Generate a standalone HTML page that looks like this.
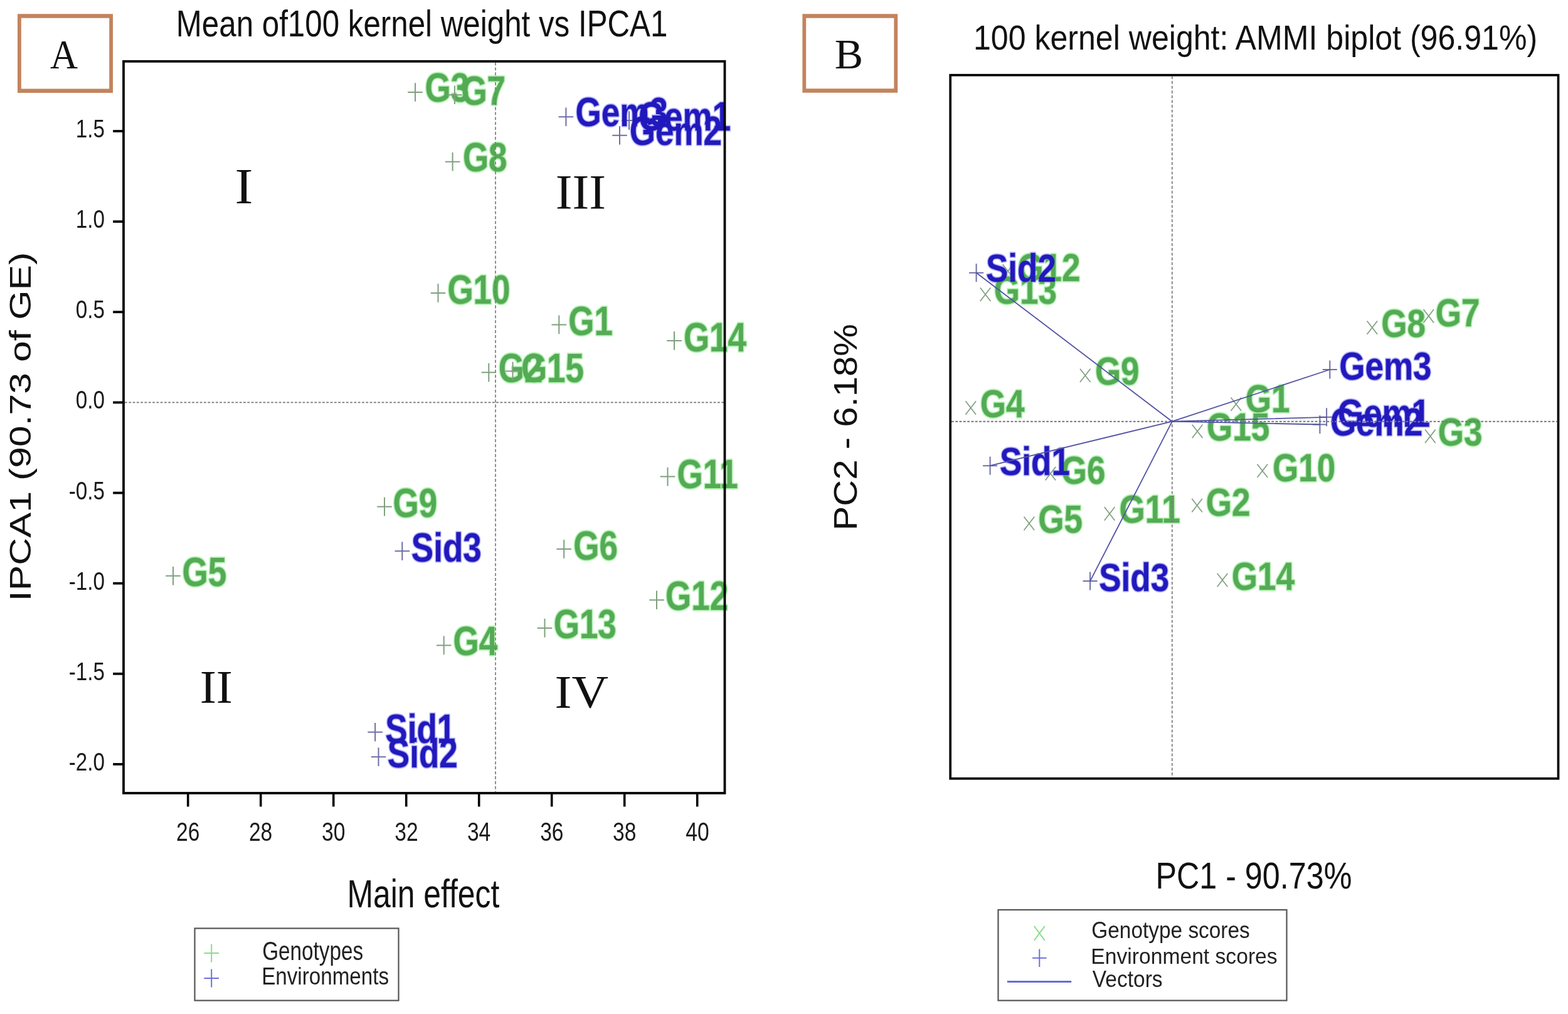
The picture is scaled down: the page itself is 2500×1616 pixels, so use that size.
<!DOCTYPE html>
<html><head><meta charset="utf-8"><title>AMMI plots</title>
<style>html,body{margin:0;padding:0;background:#fff;}svg{display:block;}</style></head>
<body><svg width="2500" height="1616" viewBox="0 0 2500 1616">
<rect width="2500" height="1616" fill="#fff"/>
<path fill-rule="evenodd" fill="#c4835c" d="M28 22.2H180V148H28Z M33.8 28.7V141.5H174.2V28.7Z"/>
<text transform="translate(79.89,109.00) scale(1,1.0781)" font-family="'Liberation Serif', 'Times New Roman', serif" font-weight="normal" font-size="60.99" fill="#111" >A</text>
<text transform="translate(280.76,57.70) scale(1,1.2113)" font-family="'Liberation Sans', Arial, sans-serif" font-weight="normal" font-size="49.31" fill="#111" >Mean of100 kernel weight vs IPCA1</text>
<line x1="180.20" y1="209.00" x2="197.00" y2="209.00" stroke="#000" stroke-width="3.8" />
<text transform="translate(120.78,219.00) scale(1,1.2050)" font-family="'Liberation Sans', Arial, sans-serif" font-weight="normal" font-size="33.20" fill="#1a1a1a">1.5</text>
<line x1="180.20" y1="353.13" x2="197.00" y2="353.13" stroke="#000" stroke-width="3.8" />
<text transform="translate(120.78,363.13) scale(1,1.2050)" font-family="'Liberation Sans', Arial, sans-serif" font-weight="normal" font-size="33.20" fill="#1a1a1a">1.0</text>
<line x1="180.20" y1="497.26" x2="197.00" y2="497.26" stroke="#000" stroke-width="3.8" />
<text transform="translate(120.78,507.26) scale(1,1.2050)" font-family="'Liberation Sans', Arial, sans-serif" font-weight="normal" font-size="33.20" fill="#1a1a1a">0.5</text>
<line x1="180.20" y1="641.40" x2="197.00" y2="641.40" stroke="#000" stroke-width="3.8" />
<text transform="translate(120.78,651.40) scale(1,1.2050)" font-family="'Liberation Sans', Arial, sans-serif" font-weight="normal" font-size="33.20" fill="#1a1a1a">0.0</text>
<line x1="180.20" y1="785.53" x2="197.00" y2="785.53" stroke="#000" stroke-width="3.8" />
<text transform="translate(109.82,795.53) scale(1,1.2050)" font-family="'Liberation Sans', Arial, sans-serif" font-weight="normal" font-size="33.20" fill="#1a1a1a">-0.5</text>
<line x1="180.20" y1="929.67" x2="197.00" y2="929.67" stroke="#000" stroke-width="3.8" />
<text transform="translate(109.82,939.67) scale(1,1.2050)" font-family="'Liberation Sans', Arial, sans-serif" font-weight="normal" font-size="33.20" fill="#1a1a1a">-1.0</text>
<line x1="180.20" y1="1073.80" x2="197.00" y2="1073.80" stroke="#000" stroke-width="3.8" />
<text transform="translate(109.82,1083.80) scale(1,1.2050)" font-family="'Liberation Sans', Arial, sans-serif" font-weight="normal" font-size="33.20" fill="#1a1a1a">-1.5</text>
<line x1="180.20" y1="1217.94" x2="197.00" y2="1217.94" stroke="#000" stroke-width="3.8" />
<text transform="translate(109.82,1227.94) scale(1,1.2050)" font-family="'Liberation Sans', Arial, sans-serif" font-weight="normal" font-size="33.20" fill="#1a1a1a">-2.0</text>
<line x1="299.70" y1="1264.00" x2="299.70" y2="1285.50" stroke="#000" stroke-width="3.6" />
<text transform="translate(280.97,1339.60) scale(1,1.2540)" font-family="'Liberation Sans', Arial, sans-serif" font-weight="normal" font-size="33.60" fill="#1a1a1a">26</text>
<line x1="415.70" y1="1264.00" x2="415.70" y2="1285.50" stroke="#000" stroke-width="3.6" />
<text transform="translate(396.88,1339.60) scale(1,1.2540)" font-family="'Liberation Sans', Arial, sans-serif" font-weight="normal" font-size="33.60" fill="#1a1a1a">28</text>
<line x1="531.70" y1="1264.00" x2="531.70" y2="1285.50" stroke="#000" stroke-width="3.6" />
<text transform="translate(513.05,1339.60) scale(1,1.2540)" font-family="'Liberation Sans', Arial, sans-serif" font-weight="normal" font-size="33.60" fill="#1a1a1a">30</text>
<line x1="647.70" y1="1264.00" x2="647.70" y2="1285.50" stroke="#000" stroke-width="3.6" />
<text transform="translate(629.22,1339.60) scale(1,1.2540)" font-family="'Liberation Sans', Arial, sans-serif" font-weight="normal" font-size="33.60" fill="#1a1a1a">32</text>
<line x1="763.70" y1="1264.00" x2="763.70" y2="1285.50" stroke="#000" stroke-width="3.6" />
<text transform="translate(744.88,1339.60) scale(1,1.2540)" font-family="'Liberation Sans', Arial, sans-serif" font-weight="normal" font-size="33.60" fill="#1a1a1a">34</text>
<line x1="879.70" y1="1264.00" x2="879.70" y2="1285.50" stroke="#000" stroke-width="3.6" />
<text transform="translate(861.14,1339.60) scale(1,1.2540)" font-family="'Liberation Sans', Arial, sans-serif" font-weight="normal" font-size="33.60" fill="#1a1a1a">36</text>
<line x1="995.70" y1="1264.00" x2="995.70" y2="1285.50" stroke="#000" stroke-width="3.6" />
<text transform="translate(977.05,1339.60) scale(1,1.2540)" font-family="'Liberation Sans', Arial, sans-serif" font-weight="normal" font-size="33.60" fill="#1a1a1a">38</text>
<line x1="1111.70" y1="1264.00" x2="1111.70" y2="1285.50" stroke="#000" stroke-width="3.6" />
<text transform="translate(1093.30,1339.60) scale(1,1.2540)" font-family="'Liberation Sans', Arial, sans-serif" font-weight="normal" font-size="33.60" fill="#1a1a1a">40</text>
<text transform="translate(553.51,1445.60) scale(1,1.2453)" font-family="'Liberation Sans', Arial, sans-serif" font-weight="normal" font-size="49.84" fill="#111" >Main effect</text>
<text transform="translate(48.70,952.70) rotate(-90) scale(1.2535,1)" x="-4.36" y="0" font-family="'Liberation Sans', Arial, sans-serif" font-weight="normal" font-size="48.41" fill="#111">IPCA1 (90.73 of GE)</text>
<text transform="translate(374.56,324.10) scale(1,0.9147)" font-family="'Liberation Serif', 'Times New Roman', serif" font-weight="normal" font-size="86.79" fill="#111" >I</text>
<text transform="translate(318.76,1119.50) scale(1,0.9453)" font-family="'Liberation Serif', 'Times New Roman', serif" font-weight="normal" font-size="78.33" fill="#111" >II</text>
<text transform="translate(885.68,331.90) scale(1,0.9700)" font-family="'Liberation Serif', 'Times New Roman', serif" font-weight="normal" font-size="80.43" fill="#111" >III</text>
<text transform="translate(884.56,1128.10) scale(1,0.9131)" font-family="'Liberation Serif', 'Times New Roman', serif" font-weight="normal" font-size="81.09" fill="#111" >IV</text>
<rect x="310.50" y="1479.50" width="325.00" height="115.00" fill="none" stroke="#555" stroke-width="2.2" />
<path d="M325.40 1519.00H349.00M337.20 1504.50V1533.50" stroke="#88dd88" stroke-width="2" fill="none"/>
<path d="M325.40 1558.90H349.00M337.20 1544.40V1573.40" stroke="#6e6ee0" stroke-width="2" fill="none"/>
<text transform="translate(418.13,1529.50) scale(1,1.2954)" font-family="'Liberation Sans', Arial, sans-serif" font-weight="normal" font-size="33.31" fill="#222" >Genotypes</text>
<text transform="translate(417.14,1568.90) scale(1,1.1467)" font-family="'Liberation Sans', Arial, sans-serif" font-weight="normal" font-size="33.20" fill="#222" >Environments</text>
<text transform="translate(906.28,533.90) scale(1,1.2400)" font-family="'Liberation Sans', Arial, sans-serif" font-weight="bold" font-size="53.00" fill="none" stroke="#b0f2b0" stroke-width="3.2" stroke-linejoin="round">G1</text>
<text transform="translate(794.78,608.70) scale(1,1.2400)" font-family="'Liberation Sans', Arial, sans-serif" font-weight="bold" font-size="53.00" fill="none" stroke="#b0f2b0" stroke-width="3.2" stroke-linejoin="round">G2</text>
<text transform="translate(677.48,162.10) scale(1,1.2400)" font-family="'Liberation Sans', Arial, sans-serif" font-weight="bold" font-size="53.00" fill="none" stroke="#b0f2b0" stroke-width="3.2" stroke-linejoin="round">G3</text>
<text transform="translate(722.58,1044.20) scale(1,1.2400)" font-family="'Liberation Sans', Arial, sans-serif" font-weight="bold" font-size="53.00" fill="none" stroke="#b0f2b0" stroke-width="3.2" stroke-linejoin="round">G4</text>
<text transform="translate(290.48,934.00) scale(1,1.2400)" font-family="'Liberation Sans', Arial, sans-serif" font-weight="bold" font-size="53.00" fill="none" stroke="#b0f2b0" stroke-width="3.2" stroke-linejoin="round">G5</text>
<text transform="translate(914.18,892.00) scale(1,1.2400)" font-family="'Liberation Sans', Arial, sans-serif" font-weight="bold" font-size="53.00" fill="none" stroke="#b0f2b0" stroke-width="3.2" stroke-linejoin="round">G6</text>
<text transform="translate(735.38,167.10) scale(1,1.2400)" font-family="'Liberation Sans', Arial, sans-serif" font-weight="bold" font-size="53.00" fill="none" stroke="#b0f2b0" stroke-width="3.2" stroke-linejoin="round">G7</text>
<text transform="translate(737.88,272.90) scale(1,1.2400)" font-family="'Liberation Sans', Arial, sans-serif" font-weight="bold" font-size="53.00" fill="none" stroke="#b0f2b0" stroke-width="3.2" stroke-linejoin="round">G8</text>
<text transform="translate(626.58,823.80) scale(1,1.2400)" font-family="'Liberation Sans', Arial, sans-serif" font-weight="bold" font-size="53.00" fill="none" stroke="#b0f2b0" stroke-width="3.2" stroke-linejoin="round">G9</text>
<text transform="translate(713.38,484.00) scale(1,1.2400)" font-family="'Liberation Sans', Arial, sans-serif" font-weight="bold" font-size="53.00" fill="none" stroke="#b0f2b0" stroke-width="3.2" stroke-linejoin="round">G10</text>
<text transform="translate(1079.48,778.00) scale(1,1.2400)" font-family="'Liberation Sans', Arial, sans-serif" font-weight="bold" font-size="53.00" fill="none" stroke="#b0f2b0" stroke-width="3.2" stroke-linejoin="round">G11</text>
<text transform="translate(1061.08,972.00) scale(1,1.2400)" font-family="'Liberation Sans', Arial, sans-serif" font-weight="bold" font-size="53.00" fill="none" stroke="#b0f2b0" stroke-width="3.2" stroke-linejoin="round">G12</text>
<text transform="translate(882.68,1016.60) scale(1,1.2400)" font-family="'Liberation Sans', Arial, sans-serif" font-weight="bold" font-size="53.00" fill="none" stroke="#b0f2b0" stroke-width="3.2" stroke-linejoin="round">G13</text>
<text transform="translate(1089.88,560.00) scale(1,1.2400)" font-family="'Liberation Sans', Arial, sans-serif" font-weight="bold" font-size="53.00" fill="none" stroke="#b0f2b0" stroke-width="3.2" stroke-linejoin="round">G14</text>
<text transform="translate(830.88,608.70) scale(1,1.2400)" font-family="'Liberation Sans', Arial, sans-serif" font-weight="bold" font-size="53.00" fill="none" stroke="#b0f2b0" stroke-width="3.2" stroke-linejoin="round">G15</text>
<text transform="translate(1017.88,208.00) scale(1,1.2400)" font-family="'Liberation Sans', Arial, sans-serif" font-weight="bold" font-size="53.00" fill="none" stroke="#b4b4fa" stroke-width="2.8" stroke-linejoin="round">Gem1</text>
<text transform="translate(1003.78,230.50) scale(1,1.2400)" font-family="'Liberation Sans', Arial, sans-serif" font-weight="bold" font-size="53.00" fill="none" stroke="#b4b4fa" stroke-width="2.8" stroke-linejoin="round">Gem2</text>
<text transform="translate(917.58,201.10) scale(1,1.2400)" font-family="'Liberation Sans', Arial, sans-serif" font-weight="bold" font-size="53.00" fill="none" stroke="#b4b4fa" stroke-width="2.8" stroke-linejoin="round">Gem3</text>
<text transform="translate(614.31,1184.00) scale(1,1.2400)" font-family="'Liberation Sans', Arial, sans-serif" font-weight="bold" font-size="53.00" fill="none" stroke="#b4b4fa" stroke-width="2.8" stroke-linejoin="round">Sid1</text>
<text transform="translate(617.81,1223.30) scale(1,1.2400)" font-family="'Liberation Sans', Arial, sans-serif" font-weight="bold" font-size="53.00" fill="none" stroke="#b4b4fa" stroke-width="2.8" stroke-linejoin="round">Sid2</text>
<text transform="translate(655.81,895.00) scale(1,1.2400)" font-family="'Liberation Sans', Arial, sans-serif" font-weight="bold" font-size="53.00" fill="none" stroke="#b4b4fa" stroke-width="2.8" stroke-linejoin="round">Sid3</text>
<path d="M879.50 517.40H903.10M891.30 502.60V532.20" stroke="#7f9f7f" stroke-width="2" fill="none"/>
<text transform="translate(906.28,533.90) scale(1,1.2400)" font-family="'Liberation Sans', Arial, sans-serif" font-weight="bold" font-size="53.00" fill="#55aa55" >G1</text>
<path d="M767.50 593.60H791.10M779.30 578.80V608.40" stroke="#7f9f7f" stroke-width="2" fill="none"/>
<text transform="translate(794.78,608.70) scale(1,1.2400)" font-family="'Liberation Sans', Arial, sans-serif" font-weight="bold" font-size="53.00" fill="#55aa55" >G2</text>
<path d="M650.20 147.00H673.80M662.00 132.20V161.80" stroke="#7f9f7f" stroke-width="2" fill="none"/>
<text transform="translate(677.48,162.10) scale(1,1.2400)" font-family="'Liberation Sans', Arial, sans-serif" font-weight="bold" font-size="53.00" fill="#55aa55" >G3</text>
<path d="M695.90 1028.40H719.50M707.70 1013.60V1043.20" stroke="#7f9f7f" stroke-width="2" fill="none"/>
<text transform="translate(722.58,1044.20) scale(1,1.2400)" font-family="'Liberation Sans', Arial, sans-serif" font-weight="bold" font-size="53.00" fill="#55aa55" >G4</text>
<path d="M264.20 917.70H287.80M276.00 902.90V932.50" stroke="#7f9f7f" stroke-width="2" fill="none"/>
<text transform="translate(290.48,934.00) scale(1,1.2400)" font-family="'Liberation Sans', Arial, sans-serif" font-weight="bold" font-size="53.00" fill="#55aa55" >G5</text>
<path d="M887.40 875.00H911.00M899.20 860.20V889.80" stroke="#7f9f7f" stroke-width="2" fill="none"/>
<text transform="translate(914.18,892.00) scale(1,1.2400)" font-family="'Liberation Sans', Arial, sans-serif" font-weight="bold" font-size="53.00" fill="#55aa55" >G6</text>
<path d="M713.10 151.20H736.70M724.90 136.40V166.00" stroke="#7f9f7f" stroke-width="2" fill="none"/>
<text transform="translate(735.38,167.10) scale(1,1.2400)" font-family="'Liberation Sans', Arial, sans-serif" font-weight="bold" font-size="53.00" fill="#55aa55" >G7</text>
<path d="M709.80 257.80H733.40M721.60 243.00V272.60" stroke="#7f9f7f" stroke-width="2" fill="none"/>
<text transform="translate(737.88,272.90) scale(1,1.2400)" font-family="'Liberation Sans', Arial, sans-serif" font-weight="bold" font-size="53.00" fill="#55aa55" >G8</text>
<path d="M601.20 807.40H624.80M613.00 792.60V822.20" stroke="#7f9f7f" stroke-width="2" fill="none"/>
<text transform="translate(626.58,823.80) scale(1,1.2400)" font-family="'Liberation Sans', Arial, sans-serif" font-weight="bold" font-size="53.00" fill="#55aa55" >G9</text>
<path d="M686.70 467.00H710.30M698.50 452.20V481.80" stroke="#7f9f7f" stroke-width="2" fill="none"/>
<text transform="translate(713.38,484.00) scale(1,1.2400)" font-family="'Liberation Sans', Arial, sans-serif" font-weight="bold" font-size="53.00" fill="#55aa55" >G10</text>
<path d="M1052.70 759.60H1076.30M1064.50 744.80V774.40" stroke="#7f9f7f" stroke-width="2" fill="none"/>
<text transform="translate(1079.48,778.00) scale(1,1.2400)" font-family="'Liberation Sans', Arial, sans-serif" font-weight="bold" font-size="53.00" fill="#55aa55" >G11</text>
<path d="M1035.20 956.30H1058.80M1047.00 941.50V971.10" stroke="#7f9f7f" stroke-width="2" fill="none"/>
<text transform="translate(1061.08,972.00) scale(1,1.2400)" font-family="'Liberation Sans', Arial, sans-serif" font-weight="bold" font-size="53.00" fill="#55aa55" >G12</text>
<path d="M856.70 1000.90H880.30M868.50 986.10V1015.70" stroke="#7f9f7f" stroke-width="2" fill="none"/>
<text transform="translate(882.68,1016.60) scale(1,1.2400)" font-family="'Liberation Sans', Arial, sans-serif" font-weight="bold" font-size="53.00" fill="#55aa55" >G13</text>
<path d="M1063.20 543.00H1086.80M1075.00 528.20V557.80" stroke="#7f9f7f" stroke-width="2" fill="none"/>
<text transform="translate(1089.88,560.00) scale(1,1.2400)" font-family="'Liberation Sans', Arial, sans-serif" font-weight="bold" font-size="53.00" fill="#55aa55" >G14</text>
<path d="M805.70 591.50H829.30M817.50 576.70V606.30" stroke="#7f9f7f" stroke-width="2" fill="none"/>
<text transform="translate(830.88,608.70) scale(1,1.2400)" font-family="'Liberation Sans', Arial, sans-serif" font-weight="bold" font-size="53.00" fill="#55aa55" >G15</text>
<path d="M991.20 192.00H1014.80M1003.00 177.20V206.80" stroke="#6e6ea6" stroke-width="2" fill="none"/>
<text transform="translate(1017.88,208.00) scale(1,1.2400)" font-family="'Liberation Sans', Arial, sans-serif" font-weight="bold" font-size="53.00" fill="#2219bc" >Gem1</text>
<path d="M976.20 215.70H999.80M988.00 200.90V230.50" stroke="#6e6ea6" stroke-width="2" fill="none"/>
<text transform="translate(1003.78,230.50) scale(1,1.2400)" font-family="'Liberation Sans', Arial, sans-serif" font-weight="bold" font-size="53.00" fill="#2219bc" >Gem2</text>
<path d="M890.60 186.20H914.20M902.40 171.40V201.00" stroke="#6e6ea6" stroke-width="2" fill="none"/>
<text transform="translate(917.58,201.10) scale(1,1.2400)" font-family="'Liberation Sans', Arial, sans-serif" font-weight="bold" font-size="53.00" fill="#2219bc" >Gem3</text>
<path d="M586.30 1166.70H609.90M598.10 1151.90V1181.50" stroke="#6e6ea6" stroke-width="2" fill="none"/>
<text transform="translate(614.31,1184.00) scale(1,1.2400)" font-family="'Liberation Sans', Arial, sans-serif" font-weight="bold" font-size="53.00" fill="#2219bc" >Sid1</text>
<path d="M591.70 1206.20H615.30M603.50 1191.40V1221.00" stroke="#6e6ea6" stroke-width="2" fill="none"/>
<text transform="translate(617.81,1223.30) scale(1,1.2400)" font-family="'Liberation Sans', Arial, sans-serif" font-weight="bold" font-size="53.00" fill="#2219bc" >Sid2</text>
<path d="M629.50 878.30H653.10M641.30 863.50V893.10" stroke="#6e6ea6" stroke-width="2" fill="none"/>
<text transform="translate(655.81,895.00) scale(1,1.2400)" font-family="'Liberation Sans', Arial, sans-serif" font-weight="bold" font-size="53.00" fill="#2219bc" >Sid3</text>
<line x1="790.00" y1="99.50" x2="790.00" y2="1262.00" stroke="#7c7c7c" stroke-width="1.7" stroke-dasharray="4.8 3.1"/>
<line x1="199.00" y1="641.40" x2="1154.00" y2="641.40" stroke="#767676" stroke-width="1.9" stroke-dasharray="3.8 2.5"/>
<rect x="197.00" y="97.80" width="958.50" height="1166.20" fill="none" stroke="#000" stroke-width="3.8" />
<path fill-rule="evenodd" fill="#c4835c" d="M1279.4 22.2H1431.2V147.8H1279.4Z M1285.2 28.7V141.3H1425.4V28.7Z"/>
<text transform="translate(1330.66,108.90) scale(1,0.9861)" font-family="'Liberation Serif', 'Times New Roman', serif" font-weight="normal" font-size="67.97" fill="#111" >B</text>
<text transform="translate(1551.94,78.70) scale(1,1.1204)" font-family="'Liberation Sans', Arial, sans-serif" font-weight="normal" font-size="50.10" fill="#111" >100 kernel weight: AMMI biplot (96.91%)</text>
<text transform="translate(1842.38,1416.30) scale(1,1.1621)" font-family="'Liberation Sans', Arial, sans-serif" font-weight="normal" font-size="50.28" fill="#111" >PC1 - 90.73%</text>
<text transform="translate(1365.50,840.80) rotate(-90) scale(1.1053,1)" x="-4.21" y="0" font-family="'Liberation Sans', Arial, sans-serif" font-weight="normal" font-size="52.57" fill="#111">PC2 - 6.18%</text>
<rect x="1591.50" y="1450.00" width="460.00" height="144.50" fill="none" stroke="#555" stroke-width="2.2" />
<path d="M1648.80 1475.90L1665.80 1498.90M1648.80 1498.90L1665.80 1475.90" stroke="#88dd88" stroke-width="1.8" fill="none"/>
<path d="M1646.00 1526.70H1668.60M1657.30 1512.40V1541.00" stroke="#6e6ee0" stroke-width="2" fill="none"/>
<line x1="1605.90" y1="1564.50" x2="1708.20" y2="1564.50" stroke="#6a6ad8" stroke-width="3" />
<text transform="translate(1740.33,1494.90) scale(1,1.0991)" font-family="'Liberation Sans', Arial, sans-serif" font-weight="normal" font-size="33.40" fill="#222" >Genotype scores</text>
<text transform="translate(1739.31,1535.80) scale(1,1.0573)" font-family="'Liberation Sans', Arial, sans-serif" font-weight="normal" font-size="33.66" fill="#222" >Environment scores</text>
<text transform="translate(1741.83,1573.00) scale(1,1.0847)" font-family="'Liberation Sans', Arial, sans-serif" font-weight="normal" font-size="33.54" fill="#222" >Vectors</text>
<text transform="translate(1985.68,657.20) scale(1,1.1900)" font-family="'Liberation Sans', Arial, sans-serif" font-weight="bold" font-size="53.00" fill="none" stroke="#b0f2b0" stroke-width="3.2" stroke-linejoin="round">G1</text>
<text transform="translate(1922.68,821.70) scale(1,1.1900)" font-family="'Liberation Sans', Arial, sans-serif" font-weight="bold" font-size="53.00" fill="none" stroke="#b0f2b0" stroke-width="3.2" stroke-linejoin="round">G2</text>
<text transform="translate(2292.68,709.70) scale(1,1.1900)" font-family="'Liberation Sans', Arial, sans-serif" font-weight="bold" font-size="53.00" fill="none" stroke="#b0f2b0" stroke-width="3.2" stroke-linejoin="round">G3</text>
<text transform="translate(1562.68,665.10) scale(1,1.1900)" font-family="'Liberation Sans', Arial, sans-serif" font-weight="bold" font-size="53.00" fill="none" stroke="#b0f2b0" stroke-width="3.2" stroke-linejoin="round">G4</text>
<text transform="translate(1655.18,849.30) scale(1,1.1900)" font-family="'Liberation Sans', Arial, sans-serif" font-weight="bold" font-size="53.00" fill="none" stroke="#b0f2b0" stroke-width="3.2" stroke-linejoin="round">G5</text>
<text transform="translate(1691.68,771.20) scale(1,1.1900)" font-family="'Liberation Sans', Arial, sans-serif" font-weight="bold" font-size="53.00" fill="none" stroke="#b0f2b0" stroke-width="3.2" stroke-linejoin="round">G6</text>
<text transform="translate(2288.78,519.50) scale(1,1.1900)" font-family="'Liberation Sans', Arial, sans-serif" font-weight="bold" font-size="53.00" fill="none" stroke="#b0f2b0" stroke-width="3.2" stroke-linejoin="round">G7</text>
<text transform="translate(2202.18,536.50) scale(1,1.1900)" font-family="'Liberation Sans', Arial, sans-serif" font-weight="bold" font-size="53.00" fill="none" stroke="#b0f2b0" stroke-width="3.2" stroke-linejoin="round">G8</text>
<text transform="translate(1745.88,612.90) scale(1,1.1900)" font-family="'Liberation Sans', Arial, sans-serif" font-weight="bold" font-size="53.00" fill="none" stroke="#b0f2b0" stroke-width="3.2" stroke-linejoin="round">G9</text>
<text transform="translate(2028.98,767.40) scale(1,1.1900)" font-family="'Liberation Sans', Arial, sans-serif" font-weight="bold" font-size="53.00" fill="none" stroke="#b0f2b0" stroke-width="3.2" stroke-linejoin="round">G10</text>
<text transform="translate(1784.58,833.40) scale(1,1.1900)" font-family="'Liberation Sans', Arial, sans-serif" font-weight="bold" font-size="53.00" fill="none" stroke="#b0f2b0" stroke-width="3.2" stroke-linejoin="round">G11</text>
<text transform="translate(1622.38,447.90) scale(1,1.1900)" font-family="'Liberation Sans', Arial, sans-serif" font-weight="bold" font-size="53.00" fill="none" stroke="#b0f2b0" stroke-width="3.2" stroke-linejoin="round">G12</text>
<text transform="translate(1584.68,483.80) scale(1,1.1900)" font-family="'Liberation Sans', Arial, sans-serif" font-weight="bold" font-size="53.00" fill="none" stroke="#b0f2b0" stroke-width="3.2" stroke-linejoin="round">G13</text>
<text transform="translate(1963.78,939.90) scale(1,1.1900)" font-family="'Liberation Sans', Arial, sans-serif" font-weight="bold" font-size="53.00" fill="none" stroke="#b0f2b0" stroke-width="3.2" stroke-linejoin="round">G14</text>
<text transform="translate(1924.08,701.80) scale(1,1.1900)" font-family="'Liberation Sans', Arial, sans-serif" font-weight="bold" font-size="53.00" fill="none" stroke="#b0f2b0" stroke-width="3.2" stroke-linejoin="round">G15</text>
<text transform="translate(2132.68,679.50) scale(1,1.1900)" font-family="'Liberation Sans', Arial, sans-serif" font-weight="bold" font-size="53.00" fill="none" stroke="#b4b4fa" stroke-width="2.8" stroke-linejoin="round">Gem1</text>
<text transform="translate(2120.88,694.00) scale(1,1.1900)" font-family="'Liberation Sans', Arial, sans-serif" font-weight="bold" font-size="53.00" fill="none" stroke="#b4b4fa" stroke-width="2.8" stroke-linejoin="round">Gem2</text>
<text transform="translate(2135.28,604.70) scale(1,1.1900)" font-family="'Liberation Sans', Arial, sans-serif" font-weight="bold" font-size="53.00" fill="none" stroke="#b4b4fa" stroke-width="2.8" stroke-linejoin="round">Gem3</text>
<text transform="translate(1594.01,756.70) scale(1,1.1900)" font-family="'Liberation Sans', Arial, sans-serif" font-weight="bold" font-size="53.00" fill="none" stroke="#b4b4fa" stroke-width="2.8" stroke-linejoin="round">Sid1</text>
<text transform="translate(1572.01,448.50) scale(1,1.1900)" font-family="'Liberation Sans', Arial, sans-serif" font-weight="bold" font-size="53.00" fill="none" stroke="#b4b4fa" stroke-width="2.8" stroke-linejoin="round">Sid2</text>
<text transform="translate(1752.21,941.60) scale(1,1.1900)" font-family="'Liberation Sans', Arial, sans-serif" font-weight="bold" font-size="53.00" fill="none" stroke="#b4b4fa" stroke-width="2.8" stroke-linejoin="round">Sid3</text>
<path d="M1962.50 633.40L1979.10 654.80M1962.50 654.80L1979.10 633.40" stroke="#7f9f7f" stroke-width="1.7" fill="none"/>
<text transform="translate(1985.68,657.20) scale(1,1.1900)" font-family="'Liberation Sans', Arial, sans-serif" font-weight="bold" font-size="53.00" fill="#55aa55" >G1</text>
<path d="M1900.30 794.80L1916.90 816.20M1900.30 816.20L1916.90 794.80" stroke="#7f9f7f" stroke-width="1.7" fill="none"/>
<text transform="translate(1922.68,821.70) scale(1,1.1900)" font-family="'Liberation Sans', Arial, sans-serif" font-weight="bold" font-size="53.00" fill="#55aa55" >G2</text>
<path d="M2272.10 684.60L2288.70 706.00M2272.10 706.00L2288.70 684.60" stroke="#7f9f7f" stroke-width="1.7" fill="none"/>
<text transform="translate(2292.68,709.70) scale(1,1.1900)" font-family="'Liberation Sans', Arial, sans-serif" font-weight="bold" font-size="53.00" fill="#55aa55" >G3</text>
<path d="M1539.50 639.30L1556.10 660.70M1539.50 660.70L1556.10 639.30" stroke="#7f9f7f" stroke-width="1.7" fill="none"/>
<text transform="translate(1562.68,665.10) scale(1,1.1900)" font-family="'Liberation Sans', Arial, sans-serif" font-weight="bold" font-size="53.00" fill="#55aa55" >G4</text>
<path d="M1632.60 823.50L1649.20 844.90M1632.60 844.90L1649.20 823.50" stroke="#7f9f7f" stroke-width="1.7" fill="none"/>
<text transform="translate(1655.18,849.30) scale(1,1.1900)" font-family="'Liberation Sans', Arial, sans-serif" font-weight="bold" font-size="53.00" fill="#55aa55" >G5</text>
<path d="M1666.60 744.10L1683.20 765.50M1666.60 765.50L1683.20 744.10" stroke="#7f9f7f" stroke-width="1.7" fill="none"/>
<text transform="translate(1691.68,771.20) scale(1,1.1900)" font-family="'Liberation Sans', Arial, sans-serif" font-weight="bold" font-size="53.00" fill="#55aa55" >G6</text>
<path d="M2269.50 493.00L2286.10 514.40M2269.50 514.40L2286.10 493.00" stroke="#7f9f7f" stroke-width="1.7" fill="none"/>
<text transform="translate(2288.78,519.50) scale(1,1.1900)" font-family="'Liberation Sans', Arial, sans-serif" font-weight="bold" font-size="53.00" fill="#55aa55" >G7</text>
<path d="M2179.50 511.40L2196.10 532.80M2179.50 532.80L2196.10 511.40" stroke="#7f9f7f" stroke-width="1.7" fill="none"/>
<text transform="translate(2202.18,536.50) scale(1,1.1900)" font-family="'Liberation Sans', Arial, sans-serif" font-weight="bold" font-size="53.00" fill="#55aa55" >G8</text>
<path d="M1722.00 587.70L1738.60 609.10M1722.00 609.10L1738.60 587.70" stroke="#7f9f7f" stroke-width="1.7" fill="none"/>
<text transform="translate(1745.88,612.90) scale(1,1.1900)" font-family="'Liberation Sans', Arial, sans-serif" font-weight="bold" font-size="53.00" fill="#55aa55" >G9</text>
<path d="M2004.50 739.70L2021.10 761.10M2004.50 761.10L2021.10 739.70" stroke="#7f9f7f" stroke-width="1.7" fill="none"/>
<text transform="translate(2028.98,767.40) scale(1,1.1900)" font-family="'Liberation Sans', Arial, sans-serif" font-weight="bold" font-size="53.00" fill="#55aa55" >G10</text>
<path d="M1760.80 808.00L1777.40 829.40M1760.80 829.40L1777.40 808.00" stroke="#7f9f7f" stroke-width="1.7" fill="none"/>
<text transform="translate(1784.58,833.40) scale(1,1.1900)" font-family="'Liberation Sans', Arial, sans-serif" font-weight="bold" font-size="53.00" fill="#55aa55" >G11</text>
<path d="M1598.70 421.30L1615.30 442.70M1598.70 442.70L1615.30 421.30" stroke="#7f9f7f" stroke-width="1.7" fill="none"/>
<text transform="translate(1622.38,447.90) scale(1,1.1900)" font-family="'Liberation Sans', Arial, sans-serif" font-weight="bold" font-size="53.00" fill="#55aa55" >G12</text>
<path d="M1562.80 458.60L1579.40 480.00M1562.80 480.00L1579.40 458.60" stroke="#7f9f7f" stroke-width="1.7" fill="none"/>
<text transform="translate(1584.68,483.80) scale(1,1.1900)" font-family="'Liberation Sans', Arial, sans-serif" font-weight="bold" font-size="53.00" fill="#55aa55" >G13</text>
<path d="M1940.70 913.80L1957.30 935.20M1940.70 935.20L1957.30 913.80" stroke="#7f9f7f" stroke-width="1.7" fill="none"/>
<text transform="translate(1963.78,939.90) scale(1,1.1900)" font-family="'Liberation Sans', Arial, sans-serif" font-weight="bold" font-size="53.00" fill="#55aa55" >G14</text>
<path d="M1900.80 676.70L1917.40 698.10M1900.80 698.10L1917.40 676.70" stroke="#7f9f7f" stroke-width="1.7" fill="none"/>
<text transform="translate(1924.08,701.80) scale(1,1.1900)" font-family="'Liberation Sans', Arial, sans-serif" font-weight="bold" font-size="53.00" fill="#55aa55" >G15</text>
<path d="M2103.60 664.80H2126.60M2115.10 650.30V679.30" stroke="#6e6ea6" stroke-width="2" fill="none"/>
<text transform="translate(2132.68,679.50) scale(1,1.1900)" font-family="'Liberation Sans', Arial, sans-serif" font-weight="bold" font-size="53.00" fill="#2219bc" >Gem1</text>
<path d="M2092.90 676.50H2115.90M2104.40 662.00V691.00" stroke="#6e6ea6" stroke-width="2" fill="none"/>
<text transform="translate(2120.88,694.00) scale(1,1.1900)" font-family="'Liberation Sans', Arial, sans-serif" font-weight="bold" font-size="53.00" fill="#2219bc" >Gem2</text>
<path d="M2108.80 589.00H2131.80M2120.30 574.50V603.50" stroke="#6e6ea6" stroke-width="2" fill="none"/>
<text transform="translate(2135.28,604.70) scale(1,1.1900)" font-family="'Liberation Sans', Arial, sans-serif" font-weight="bold" font-size="53.00" fill="#2219bc" >Gem3</text>
<path d="M1567.10 742.20H1590.10M1578.60 727.70V756.70" stroke="#6e6ea6" stroke-width="2" fill="none"/>
<text transform="translate(1594.01,756.70) scale(1,1.1900)" font-family="'Liberation Sans', Arial, sans-serif" font-weight="bold" font-size="53.00" fill="#2219bc" >Sid1</text>
<path d="M1545.10 434.70H1568.10M1556.60 420.20V449.20" stroke="#6e6ea6" stroke-width="2" fill="none"/>
<text transform="translate(1572.01,448.50) scale(1,1.1900)" font-family="'Liberation Sans', Arial, sans-serif" font-weight="bold" font-size="53.00" fill="#2219bc" >Sid2</text>
<path d="M1726.60 926.10H1749.60M1738.10 911.60V940.60" stroke="#6e6ea6" stroke-width="2" fill="none"/>
<text transform="translate(1752.21,941.60) scale(1,1.1900)" font-family="'Liberation Sans', Arial, sans-serif" font-weight="bold" font-size="53.00" fill="#2219bc" >Sid3</text>
<line x1="1868.80" y1="121.50" x2="1868.80" y2="1239.00" stroke="#7c7c7c" stroke-width="1.7" stroke-dasharray="4.6 3.0"/>
<line x1="1517.00" y1="671.70" x2="2482.50" y2="671.70" stroke="#767676" stroke-width="1.9" stroke-dasharray="3.8 2.5"/>
<line x1="1868.80" y1="671.70" x2="2115.10" y2="664.80" stroke="#5252a4" stroke-width="1.8" stroke-linecap="round"/>
<line x1="1868.80" y1="671.70" x2="2104.40" y2="676.50" stroke="#5252a4" stroke-width="1.8" stroke-linecap="round"/>
<line x1="1868.80" y1="671.70" x2="2120.30" y2="589.00" stroke="#5252a4" stroke-width="1.8" stroke-linecap="round"/>
<line x1="1868.80" y1="671.70" x2="1578.60" y2="742.20" stroke="#5252a4" stroke-width="1.8" stroke-linecap="round"/>
<line x1="1868.80" y1="671.70" x2="1556.60" y2="434.70" stroke="#5252a4" stroke-width="1.8" stroke-linecap="round"/>
<line x1="1868.80" y1="671.70" x2="1738.10" y2="926.10" stroke="#5252a4" stroke-width="1.8" stroke-linecap="round"/>
<rect x="1515.20" y="119.70" width="969.30" height="1121.10" fill="none" stroke="#000" stroke-width="3.7" />
</svg></body></html>
